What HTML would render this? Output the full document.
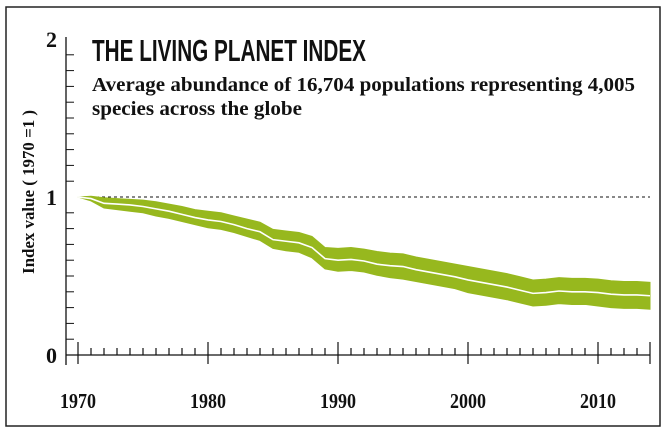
<!DOCTYPE html>
<html><head><meta charset="utf-8"><style>
html,body{margin:0;padding:0;background:#fff;}
svg{display:block;}
text{font-family:"Liberation Serif",serif;fill:#111;}
</style></head><body>
<svg id="chart" width="666" height="434" viewBox="0 0 666 434" xmlns="http://www.w3.org/2000/svg">
<rect x="6" y="7" width="654" height="419" fill="#fff" stroke="#222" stroke-width="1.5"/>
<text x="92" y="61" font-weight="bold" font-size="31" textLength="274" lengthAdjust="spacingAndGlyphs" style="font-family:'Liberation Sans Narrow','Liberation Sans',sans-serif">THE LIVING PLANET INDEX</text>
<text x="92" y="91" font-size="20" font-weight="bold" textLength="543" lengthAdjust="spacingAndGlyphs">Average abundance of 16,704 populations representing 4,005</text>
<text x="92" y="115" font-size="20" font-weight="bold" textLength="210" lengthAdjust="spacingAndGlyphs">species across the globe</text>
<text transform="translate(34,192) rotate(-90)" text-anchor="middle" font-size="17" font-weight="bold" textLength="164" lengthAdjust="spacingAndGlyphs">Index value ( 1970 =1 )</text>
<g id="plot"></g>
</svg>
<script>
const years = [1970,1971,1972,1973,1974,1975,1976,1977,1978,1979,1980,1981,1982,1983,1984,1985,1986,1987,1988,1989,1990,1991,1992,1993,1994,1995,1996,1997,1998,1999,2000,2001,2002,2003,2004,2005,2006,2007,2008,2009,2010,2011,2012,2013,2014];
const indexValues = [1.00,0.99,0.96,0.955,0.95,0.94,0.925,0.91,0.89,0.87,0.855,0.845,0.825,0.80,0.78,0.73,0.72,0.71,0.68,0.61,0.60,0.605,0.595,0.575,0.565,0.56,0.54,0.525,0.51,0.495,0.475,0.46,0.445,0.43,0.41,0.39,0.395,0.405,0.40,0.40,0.395,0.385,0.38,0.38,0.375];
const upperValues = [1.00,1.005,0.995,0.99,0.985,0.98,0.97,0.955,0.94,0.92,0.91,0.90,0.88,0.86,0.84,0.795,0.785,0.775,0.75,0.68,0.675,0.68,0.67,0.655,0.645,0.64,0.62,0.605,0.59,0.575,0.56,0.545,0.53,0.515,0.495,0.475,0.48,0.49,0.485,0.485,0.48,0.47,0.465,0.465,0.46];
const lowerValues = [1.00,0.975,0.93,0.92,0.91,0.90,0.88,0.865,0.845,0.825,0.805,0.795,0.775,0.75,0.725,0.675,0.66,0.65,0.615,0.545,0.53,0.535,0.525,0.505,0.49,0.48,0.465,0.45,0.435,0.42,0.395,0.38,0.365,0.35,0.33,0.31,0.315,0.325,0.32,0.32,0.31,0.30,0.295,0.295,0.29];
const yTickLabels = ["0","1","2"];
const xTickLabels = ["1970","1980","1990","2000","2010"];

const NS="http://www.w3.org/2000/svg";
const g=document.getElementById('plot');
const X0=78, PXY=13, Y0=355, PXU=158;
function x(yr){return X0+(yr-1970)*PXY;}
function y(v){return Y0-v*PXU;}
function mk(tag,attrs){const e=document.createElementNS(NS,tag);for(const k in attrs)e.setAttribute(k,attrs[k]);g.appendChild(e);return e;}

let e=mk('line',{x1:66,y1:y(2)-2,x2:66,y2:Y0+10,stroke:'#111','stroke-width':1.3});


for(let i=1;i<20;i++){
  if(i===10)continue;
  const t=mk('line',{x1:66,y1:y(i/10),x2:74,y2:y(i/10),stroke:'#111','stroke-width':1});
  
  
}
yTickLabels.forEach(l=>{
  const t=mk('text',{x:57,y:y(+l)+8,'text-anchor':'end','font-size':22,'font-weight':'bold'});
  t.textContent=l;
  
  
});
e=mk('line',{x1:x(1970),y1:y(1),x2:x(2014),y2:y(1),stroke:'#111','stroke-width':1,'stroke-dasharray':'3,3'});



let up=years.map((yr,i)=>x(yr)+','+y(upperValues[i]));
let lo=years.map((yr,i)=>x(yr)+','+y(lowerValues[i])).reverse();
e=mk('polygon',{points:up.concat(lo).join(' '),fill:'#97b81e',stroke:'#97b81e','stroke-width':1});


e=mk('polyline',{points:years.map((yr,i)=>x(yr)+','+y(indexValues[i])).join(' '),fill:'none',stroke:'#fff','stroke-width':1.6});



e=mk('line',{x1:66,y1:Y0,x2:x(2014),y2:Y0,stroke:'#111','stroke-width':1.3});


years.forEach(yr=>{
  const major=(yr%10===0)||yr===2014;
  const t=mk('line',{x1:x(yr),y1:major?Y0-13:Y0-7,x2:x(yr),y2:major?Y0+9:Y0,stroke:'#111','stroke-width':1.2});
  
  
});
xTickLabels.forEach(l=>{
  const t=mk('text',{x:x(+l),y:408,'text-anchor':'middle','font-size':21,'font-weight':'bold',textLength:36,lengthAdjust:'spacingAndGlyphs'});
  t.textContent=l;
  
  
});
</script>
</body></html>
